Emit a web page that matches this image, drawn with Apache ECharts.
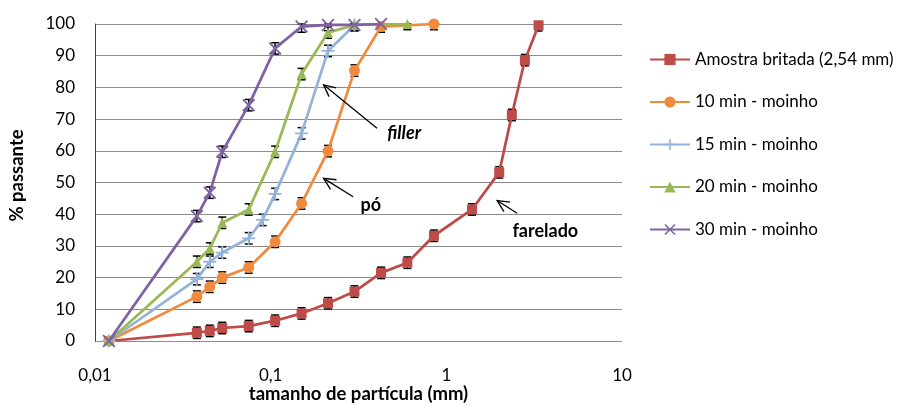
<!DOCTYPE html>
<html><head><meta charset="utf-8">
<script src="https://cdn.jsdelivr.net/npm/echarts@6/dist/echarts.min.js"></script>
<style>html,body{margin:0;padding:0;background:#fff}#c{width:899px;height:406px}</style>
</head><body><div id="c"></div>
<script>
// ---- data ----
const seriesNames = ['Amostra britada (2,54 mm)', '10 min - moinho', '15 min - moinho', '20 min - moinho', '30 min - moinho'];
const xTickLabels = ['0,01', '0,1', '1', '10'];

const redX = [0.012, 0.038, 0.045, 0.053, 0.075, 0.106, 0.150, 0.212, 0.300, 0.425, 0.600, 0.850, 1.40, 2.00, 2.36, 2.80, 3.35];
const redY = [0, 2.6, 3.2, 4.1, 4.7, 6.4, 8.7, 11.9, 15.6, 21.5, 24.7, 33.2, 41.5, 53.2, 71.3, 88.6, 99.6];

const orangeX = [0.012, 0.038, 0.045, 0.053, 0.075, 0.106, 0.150, 0.212, 0.300, 0.425, 0.850];
const orangeY = [0, 14.0, 17.1, 20.0, 23.2, 31.3, 43.4, 59.9, 85.3, 99.2, 100];

const blueX = [0.012, 0.038, 0.045, 0.053, 0.075, 0.090, 0.106, 0.150, 0.212, 0.300];
const blueY = [0, 19.5, 25.0, 27.9, 32.4, 38.2, 46.4, 65.5, 91.5, 99.7];

const greenX = [0.012, 0.038, 0.045, 0.053, 0.075, 0.106, 0.150, 0.212, 0.300, 0.600];
const greenY = [0, 25.0, 29.2, 37.3, 41.5, 59.7, 84.2, 97.3, 99.7, 100];

const purpleX = [0.012, 0.038, 0.045, 0.053, 0.075, 0.106, 0.150, 0.212, 0.300, 0.425];
const purpleY = [0, 39.4, 46.8, 59.7, 74.4, 92.3, 99.2, 99.7, 99.7, 100];

const errorHalf = 1.8; // +/- error bar (% passante)

const annotTexts = ['filler', 'pó', 'farelado'];
const annotHead = [[0.200, 80.8], [0.200, 51.3], [1.945, 44.3]];
const annotTail = [[0.403, 67.1], [0.295, 45.5], [2.53, 40.3]];
const annotLabel = [[0.575, 65.6], [0.372, 43.0], [3.66, 34.6]];
const annotItalic = [true, false, false];

// ---- build ----
const FONT = 'Lato';
const colors = ['#BE4B48', '#F08A3C', '#94B3D9', '#98B954', '#7F62A1'];
const plusPath = 'path://M4.3,0H5.7V4.3H10V5.7H5.7V10H4.3V5.7H0V4.3H4.3Z';
const xPath = 'path://M0,1L1,0L5,4L9,0L10,1L6,5L10,9L9,10L5,6L1,10L0,9L4,5Z';
const symbols = ['rect', 'circle', plusPath, 'triangle', xPath];
const symbolSizes = [10, 11, 13, 10, 13];
const xs = [redX, orangeX, blueX, greenX, purpleX];
const ys = [redY, orangeY, blueY, greenY, purpleY];

const series = [];
const errData = [];
seriesNames.forEach((name, i) => {
  const data = xs[i].map((x, k) => [x, ys[i][k]]);
  series.push({
    name, type: 'line', data,
    symbol: symbols[i], symbolSize: symbolSizes[i],
    showSymbol: true,
    lineStyle: { color: colors[i], width: 2.75 },
    itemStyle: { color: colors[i], borderWidth: 0 },
    z: 3 + i, animation: false
  });
  data.forEach(d => { if (d[1] > 0) errData.push([d[0], d[1], errorHalf]); });
});

series.push({
  type: 'custom', name: 'err', z: 2, animation: false, silent: true,
  data: errData, encode: { x: 0, y: 1 },
  renderItem(params, api) {
    const x = api.value(0), y = api.value(1), e = api.value(2);
    const top = api.coord([x, Math.min(100, y + e)]);
    const bot = api.coord([x, y - e]);
    const w = 4;
    const st = { stroke: '#000', lineWidth: 1.5 };
    return { type: 'group', children: [
      { type: 'line', shape: { x1: top[0], y1: top[1], x2: bot[0], y2: bot[1] }, style: st },
      { type: 'line', shape: { x1: top[0] - w, y1: top[1], x2: top[0] + w, y2: top[1] }, style: st },
      { type: 'line', shape: { x1: bot[0] - w, y1: bot[1], x2: bot[0] + w, y2: bot[1] }, style: st }
    ]};
  }
});

series.push({
  type: 'custom', name: 'annot', z: 30, animation: false, silent: true,
  data: annotTexts.map((t, i) => [annotHead[i][0], annotHead[i][1], annotTail[i][0], annotTail[i][1], annotLabel[i][0], annotLabel[i][1], i]),
  encode: { x: 0, y: 1 },
  renderItem(params, api) {
    const h = api.coord([api.value(0), api.value(1)]);
    const t = api.coord([api.value(2), api.value(3)]);
    const l = api.coord([api.value(4), api.value(5)]);
    const i = api.value(6);
    const ang = Math.atan2(t[1] - h[1], t[0] - h[0]);
    const L = 13, spread = 0.45;
    const a1 = [h[0] + L * Math.cos(ang + spread), h[1] + L * Math.sin(ang + spread)];
    const a2 = [h[0] + L * Math.cos(ang - spread), h[1] + L * Math.sin(ang - spread)];
    const st = { stroke: '#000', lineWidth: 1.3, fill: null };
    return { type: 'group', children: [
      { type: 'line', shape: { x1: t[0], y1: t[1], x2: h[0], y2: h[1] }, style: st },
      { type: 'polyline', shape: { points: [a1, h, a2] }, style: st },
      { type: 'text', x: l[0], y: l[1], style: {
        text: annotTexts[i], fill: '#000', align: 'center', verticalAlign: 'middle',
        font: (annotItalic[i] ? 'italic ' : '') + 'bold 18px ' + FONT } }
    ]};
  }
});

const chart = echarts.init(document.getElementById('c'), null, { renderer: 'canvas' });
chart.setOption({
  animation: false,
  textStyle: { fontFamily: FONT },
  grid: { left: 95, right: 277, top: 24, bottom: 65, containLabel: false, outerBoundsMode: 'none' },
  xAxis: {
    type: 'log', logBase: 10, min: 0.01, max: 10,
    name: 'tamanho de partícula (mm)', nameLocation: 'middle', nameGap: 44, nameMoveOverlap: false,
    nameTextStyle: { fontFamily: FONT, fontSize: 18.5, fontWeight: 'bold', color: '#000' },
    axisLine: { show: false }, axisTick: { show: false },
    splitLine: { show: false }, minorSplitLine: { show: false },
    axisLabel: { fontFamily: FONT, fontSize: 17, color: '#000', margin: 26,
      formatter: v => { const idx = Math.round(Math.log10(v) + 2); return xTickLabels[idx] !== undefined ? xTickLabels[idx] : ''; } }
  },
  yAxis: {
    type: 'value', min: 0, max: 100, interval: 10,
    name: '% passante', nameLocation: 'middle', nameGap: 68, nameRotate: 90, nameMoveOverlap: false,
    nameTextStyle: { fontFamily: FONT, fontSize: 18.5, fontWeight: 'bold', color: '#000', padding: [0, 0, 0, 14] },
    axisLine: { show: true, lineStyle: { color: '#404040', width: 1 } },
    axisTick: { show: false },
    splitLine: { show: true, lineStyle: { color: '#8c8c8c', width: 1.2 } },
    axisLabel: { fontFamily: FONT, fontSize: 17, color: '#000', margin: 20 }
  },
  legend: {
    data: seriesNames, orient: 'vertical', left: 644, top: 46,
    itemWidth: 40, itemHeight: 14, itemGap: 25.5,
    textStyle: { fontFamily: FONT, fontSize: 17, color: '#000' }
  },
  series
});
</script>
</body></html>
